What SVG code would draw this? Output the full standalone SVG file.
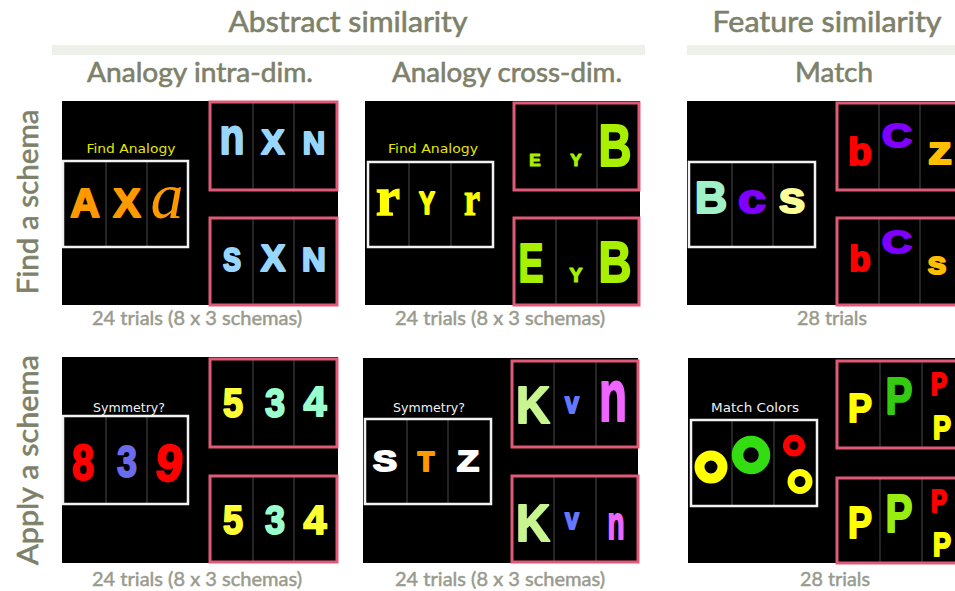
<svg xmlns="http://www.w3.org/2000/svg" width="955" height="591" viewBox="0 0 955 591">
<style>
.hd{font-family:Lato,"Open Sans","Liberation Sans",sans-serif;fill:#7e8169;stroke:#7e8169;stroke-width:0.6;text-anchor:middle}
.cap{font-family:Lato,"Open Sans","Liberation Sans",sans-serif;fill:#9a9b8d;stroke:#9a9b8d;stroke-width:0.5;text-anchor:middle;font-size:20px}
.bar{fill:#eef0ea}
.panel{fill:#000}
.wb{fill:none;stroke:#f2f2f2;stroke-width:2.5}
.pb{fill:none;stroke:#e05a78;stroke-width:3}
.dv{stroke:#4a4a4a;stroke-width:1}
.lb{font-family:"DejaVu Sans","Liberation Sans",sans-serif;text-anchor:middle;font-size:13px}
.g{font-family:"Liberation Sans",Arial,sans-serif;font-weight:bold;text-anchor:middle;stroke-width:2;stroke-linejoin:round}
.gs{stroke-width:1.2}
.sf{font-family:"Liberation Serif","Times New Roman",serif;text-anchor:middle}
</style>
<rect width="955" height="591" fill="#fff"/>
<g id="headers">
<text class="hd" x="348" y="32" font-size="29" textLength="239" lengthAdjust="spacingAndGlyphs">Abstract similarity</text>
<text class="hd" x="827" y="32" font-size="29" textLength="229" lengthAdjust="spacingAndGlyphs">Feature similarity</text>
<rect class="bar" x="52" y="45" width="593" height="10"/>
<rect class="bar" x="687" y="45" width="268" height="10"/>
<text class="hd" x="200" y="82" font-size="27" textLength="226" lengthAdjust="spacingAndGlyphs">Analogy intra-dim.</text>
<text class="hd" x="507" y="82" font-size="27" textLength="230" lengthAdjust="spacingAndGlyphs">Analogy cross-dim.</text>
<text class="hd" x="834" y="82" font-size="27" textLength="78" lengthAdjust="spacingAndGlyphs">Match</text>
<text class="hd" transform="translate(38,202) rotate(-90)" font-size="28" textLength="185" lengthAdjust="spacingAndGlyphs">Find a schema</text>
<text class="hd" transform="translate(38,460) rotate(-90)" font-size="28" textLength="210" lengthAdjust="spacingAndGlyphs">Apply a schema</text>
</g>

<g id="panel-intra-find">
<rect class="panel" x="62" y="101" width="276" height="204"/>
<text class="lb" x="131" y="153" fill="#e6e600" textLength="89" lengthAdjust="spacingAndGlyphs">Find Analogy</text>
<line class="dv" x1="106" y1="162" x2="106" y2="246"/><line class="dv" x1="147" y1="162" x2="147" y2="246"/>
<rect class="wb" x="63" y="161" width="125" height="86"/>
<text class="g" x="85" y="217" font-size="41" fill="#ff9900" stroke="#ff9900">A</text>
<text class="g" x="127" y="217" font-size="41" fill="#ff9900" stroke="#ff9900">X</text>
<text class="sf" x="167" y="218" font-size="66" font-style="italic" fill="#ff9900">a</text>
<line class="dv" x1="253" y1="103" x2="253" y2="189"/><line class="dv" x1="294" y1="103" x2="294" y2="189"/>
<rect class="pb" x="210" y="102" width="127" height="88"/>
<text class="g" x="232" y="154" font-size="52" fill="#99d6ff" stroke="#99d6ff" textLength="25" lengthAdjust="spacingAndGlyphs">n</text>
<text class="g" x="273" y="154" font-size="35" fill="#99d6ff" stroke="#99d6ff">X</text>
<text class="g" x="314" y="154" font-size="31" fill="#99d6ff" stroke="#99d6ff">N</text>
<line class="dv" x1="253" y1="219" x2="253" y2="304"/><line class="dv" x1="294" y1="219" x2="294" y2="304"/>
<rect class="pb" x="210" y="218" width="127" height="87"/>
<text class="g" x="232" y="271" font-size="43" fill="#99d6ff" stroke="#99d6ff" textLength="19" lengthAdjust="spacingAndGlyphs">s</text>
<text class="g" x="273" y="271" font-size="37" fill="#99d6ff" stroke="#99d6ff">X</text>
<text class="g" x="314" y="271" font-size="33" fill="#99d6ff" stroke="#99d6ff">N</text>
<text class="cap" x="197" y="325" textLength="210" lengthAdjust="spacingAndGlyphs">24 trials (8 x 3 schemas)</text>
</g>

<g id="panel-cross-find">
<rect class="panel" x="365" y="101" width="275" height="204"/>
<text class="lb" x="433" y="153" fill="#e6e600" textLength="90" lengthAdjust="spacingAndGlyphs">Find Analogy</text>
<line class="dv" x1="409" y1="163" x2="409" y2="246"/><line class="dv" x1="451" y1="163" x2="451" y2="246"/>
<rect class="wb" x="368" y="162" width="125" height="85"/>
<text class="sf" x="388" y="215" font-size="54" font-weight="bold" fill="#ffff00" stroke="#ffff00" stroke-width="1.5">r</text>
<text class="g" x="427" y="214" font-size="31" fill="#ffff00" stroke="#ffff00" textLength="16" lengthAdjust="spacingAndGlyphs">Y</text>
<text class="sf" x="472" y="215" font-size="48" font-weight="bold" fill="#ffff00" stroke="#ffff00" stroke-width="1.2" textLength="16" lengthAdjust="spacingAndGlyphs">r</text>
<line class="dv" x1="556" y1="104" x2="556" y2="189"/><line class="dv" x1="597" y1="104" x2="597" y2="189"/>
<rect class="pb" x="514" y="103" width="125" height="87"/>
<text class="g gs" x="535" y="166" font-size="17" fill="#a8f000" stroke="#a8f000">E</text>
<text class="g gs" x="576" y="166" font-size="17" fill="#a8f000" stroke="#a8f000">Y</text>
<text class="g" x="615" y="166" font-size="60" fill="#a8f000" stroke="#a8f000" textLength="33" lengthAdjust="spacingAndGlyphs">B</text>
<line class="dv" x1="556" y1="219" x2="556" y2="304"/><line class="dv" x1="597" y1="219" x2="597" y2="304"/>
<rect class="pb" x="514" y="218" width="125" height="87"/>
<text class="g" x="531" y="282" font-size="55" fill="#a8f000" stroke="#a8f000" textLength="25" lengthAdjust="spacingAndGlyphs">E</text>
<text class="g gs" x="576" y="282" font-size="20" fill="#a8f000" stroke="#a8f000">Y</text>
<text class="g" x="615" y="282" font-size="58" fill="#a8f000" stroke="#a8f000" textLength="33" lengthAdjust="spacingAndGlyphs">B</text>
<text class="cap" x="500" y="325" textLength="210" lengthAdjust="spacingAndGlyphs">24 trials (8 x 3 schemas)</text>
</g>

<g id="panel-match-find">
<rect class="panel" x="687" y="101" width="268" height="204"/>
<line class="dv" x1="732" y1="163" x2="732" y2="246"/><line class="dv" x1="773" y1="163" x2="773" y2="246"/>
<rect class="wb" x="689" y="162" width="126" height="85"/>
<text class="g" x="711" y="213" font-size="45" fill="#a0f0c8" stroke="#a0f0c8">B</text>
<text class="g" x="752" y="213" font-size="41" fill="#8000ff" stroke="#8000ff" textLength="28" lengthAdjust="spacingAndGlyphs">c</text>
<text class="g" x="792" y="213" font-size="45" fill="#ffff99" stroke="#ffff99" textLength="27" lengthAdjust="spacingAndGlyphs">s</text>
<line class="dv" x1="879" y1="104" x2="879" y2="189"/><line class="dv" x1="920" y1="104" x2="920" y2="189"/>
<rect class="pb" x="837" y="103" width="127" height="87"/>
<text class="g" x="860" y="165" font-size="39" fill="#ff0000" stroke="#ff0000">b</text>
<text class="g" x="897" y="147" font-size="34" fill="#8000ff" stroke="#8000ff" textLength="30" lengthAdjust="spacingAndGlyphs">C</text>
<text class="g" x="940" y="164" font-size="39" fill="#ffbf00" stroke="#ffbf00" textLength="24" lengthAdjust="spacingAndGlyphs">z</text>
<line class="dv" x1="879" y1="219" x2="879" y2="304"/><line class="dv" x1="920" y1="219" x2="920" y2="304"/>
<rect class="pb" x="837" y="218" width="127" height="87"/>
<text class="g" x="860" y="271" font-size="35" fill="#ff0000" stroke="#ff0000">b</text>
<text class="g" x="897" y="253" font-size="31" fill="#8000ff" stroke="#8000ff" textLength="30" lengthAdjust="spacingAndGlyphs">C</text>
<text class="g" x="937" y="274" font-size="32" fill="#ffbf00" stroke="#ffbf00" textLength="19" lengthAdjust="spacingAndGlyphs">s</text>
<text class="cap" x="832" y="325" textLength="70" lengthAdjust="spacingAndGlyphs">28 trials</text>
</g>

<g id="panel-intra-apply">
<rect class="panel" x="62" y="357" width="276" height="206"/>
<text class="lb" x="129" y="412" fill="#f0f0f0" textLength="72" lengthAdjust="spacingAndGlyphs">Symmetry?</text>
<line class="dv" x1="106" y1="417" x2="106" y2="503"/><line class="dv" x1="147" y1="417" x2="147" y2="503"/>
<rect class="wb" x="63" y="416" width="125" height="88"/>
<text class="g" x="83" y="480" font-size="50" fill="#ff0000" stroke="#ff0000" textLength="22" lengthAdjust="spacingAndGlyphs">8</text>
<text class="g" x="127" y="477" font-size="45" fill="#6b6bee" stroke="#6b6bee" textLength="20" lengthAdjust="spacingAndGlyphs">3</text>
<text class="g" x="0" y="0" font-size="52" fill="#ff0000" stroke="#ff0000" textLength="27" lengthAdjust="spacingAndGlyphs" transform="translate(167,481) rotate(8)">9</text>
<line class="dv" x1="253" y1="360" x2="253" y2="446"/><line class="dv" x1="294" y1="360" x2="294" y2="446"/>
<rect class="pb" x="210" y="359" width="127" height="88"/>
<text class="g" x="233" y="417" font-size="41" fill="#ffff33" stroke="#ffff33" textLength="20" lengthAdjust="spacingAndGlyphs">5</text>
<text class="g" x="275" y="417" font-size="41" fill="#99ffcc" stroke="#99ffcc" textLength="20" lengthAdjust="spacingAndGlyphs">3</text>
<text class="g" x="315" y="416" font-size="43" fill="#99ffcc" stroke="#99ffcc" textLength="23" lengthAdjust="spacingAndGlyphs">4</text>
<line class="dv" x1="253" y1="477" x2="253" y2="561"/><line class="dv" x1="294" y1="477" x2="294" y2="561"/>
<rect class="pb" x="210" y="476" width="127" height="86"/>
<text class="g" x="233" y="534" font-size="41" fill="#ffff33" stroke="#ffff33" textLength="20" lengthAdjust="spacingAndGlyphs">5</text>
<text class="g" x="275" y="534" font-size="41" fill="#99ffcc" stroke="#99ffcc" textLength="20" lengthAdjust="spacingAndGlyphs">3</text>
<text class="g" x="315" y="534" font-size="41" fill="#ffff33" stroke="#ffff33" textLength="23" lengthAdjust="spacingAndGlyphs">4</text>
<text class="cap" x="197" y="586" textLength="210" lengthAdjust="spacingAndGlyphs">24 trials (8 x 3 schemas)</text>
</g>

<g id="panel-cross-apply">
<rect class="panel" x="363" y="358" width="275" height="205"/>
<text class="lb" x="429" y="412" fill="#f0f0f0" textLength="72" lengthAdjust="spacingAndGlyphs">Symmetry?</text>
<line class="dv" x1="407" y1="420" x2="407" y2="503"/><line class="dv" x1="448" y1="420" x2="448" y2="503"/>
<rect class="wb" x="365" y="419" width="126" height="85"/>
<text class="g" x="385" y="471" font-size="30" fill="#ffffff" stroke="#ffffff" textLength="24" lengthAdjust="spacingAndGlyphs">S</text>
<text class="g" x="426" y="471" font-size="27" fill="#ff9900" stroke="#ff9900">T</text>
<text class="g" x="468" y="471" font-size="30" fill="#ffffff" stroke="#ffffff" textLength="22" lengthAdjust="spacingAndGlyphs">Z</text>
<line class="dv" x1="554" y1="362" x2="554" y2="446"/><line class="dv" x1="596" y1="362" x2="596" y2="446"/>
<rect class="pb" x="512" y="361" width="126" height="86"/>
<text class="g" x="533" y="423" font-size="52" fill="#c8f590" stroke="#c8f590" textLength="34" lengthAdjust="spacingAndGlyphs">K</text>
<text class="g" x="572" y="413" font-size="30" fill="#6677ff" stroke="#6677ff" textLength="14" lengthAdjust="spacingAndGlyphs">v</text>
<text class="g" x="613" y="421" font-size="75" fill="#ee66ff" stroke="#ee66ff" textLength="28" lengthAdjust="spacingAndGlyphs">n</text>
<line class="dv" x1="554" y1="477" x2="554" y2="561"/><line class="dv" x1="596" y1="477" x2="596" y2="561"/>
<rect class="pb" x="512" y="476" width="126" height="86"/>
<text class="g" x="533" y="541" font-size="52" fill="#c8f590" stroke="#c8f590" textLength="34" lengthAdjust="spacingAndGlyphs">K</text>
<text class="g" x="572" y="529" font-size="30" fill="#6677ff" stroke="#6677ff" textLength="14" lengthAdjust="spacingAndGlyphs">v</text>
<text class="g" x="616" y="539" font-size="47" fill="#ee66ff" stroke="#ee66ff" textLength="17" lengthAdjust="spacingAndGlyphs">n</text>
<text class="cap" x="500" y="586" textLength="210" lengthAdjust="spacingAndGlyphs">24 trials (8 x 3 schemas)</text>
</g>

<g id="panel-match-apply">
<rect class="panel" x="688" y="358" width="267" height="205"/>
<text class="lb" x="755" y="412" fill="#f0f0f0" textLength="88" lengthAdjust="spacingAndGlyphs">Match Colors</text>
<line class="dv" x1="732" y1="421" x2="732" y2="505"/><line class="dv" x1="774" y1="421" x2="774" y2="505"/>
<rect class="wb" x="691" y="420" width="126" height="86"/>
<circle cx="711" cy="467" r="11.5" fill="none" stroke="#ffff00" stroke-width="10"/>
<circle cx="751" cy="455" r="13.5" fill="none" stroke="#33dd11" stroke-width="11.5"/>
<circle cx="794" cy="445.5" r="7.75" fill="none" stroke="#ff0000" stroke-width="6.5"/>
<circle cx="800" cy="481.5" r="9" fill="none" stroke="#ffff00" stroke-width="7"/>
<line class="dv" x1="880" y1="362" x2="880" y2="447"/><line class="dv" x1="922" y1="362" x2="922" y2="447"/>
<rect class="pb" x="837" y="361" width="127" height="87"/>
<text class="g" x="860" y="422" font-size="41" fill="#ffff00" stroke="#ffff00" textLength="24" lengthAdjust="spacingAndGlyphs">P</text>
<text class="g" x="899" y="414" font-size="52" fill="#33cc11" stroke="#33cc11" textLength="27" lengthAdjust="spacingAndGlyphs">P</text>
<text class="g" x="939" y="395" font-size="31" fill="#ff0000" stroke="#ff0000" textLength="16" lengthAdjust="spacingAndGlyphs">P</text>
<text class="g" x="942" y="439" font-size="34" fill="#ffff00" stroke="#ffff00" textLength="18" lengthAdjust="spacingAndGlyphs">P</text>
<line class="dv" x1="880" y1="479" x2="880" y2="562"/><line class="dv" x1="922" y1="479" x2="922" y2="562"/>
<rect class="pb" x="837" y="478" width="127" height="85"/>
<text class="g" x="860" y="538" font-size="44" fill="#ffff00" stroke="#ffff00" textLength="24" lengthAdjust="spacingAndGlyphs">P</text>
<text class="g" x="899" y="532" font-size="53" fill="#99ee11" stroke="#99ee11" textLength="27" lengthAdjust="spacingAndGlyphs">P</text>
<text class="g" x="939" y="512" font-size="31" fill="#ff0000" stroke="#ff0000" textLength="16" lengthAdjust="spacingAndGlyphs">P</text>
<text class="g" x="942" y="556" font-size="33" fill="#ffff00" stroke="#ffff00" textLength="18" lengthAdjust="spacingAndGlyphs">P</text>
<text class="cap" x="835" y="586" textLength="70" lengthAdjust="spacingAndGlyphs">28 trials</text>
</g>
</svg>
